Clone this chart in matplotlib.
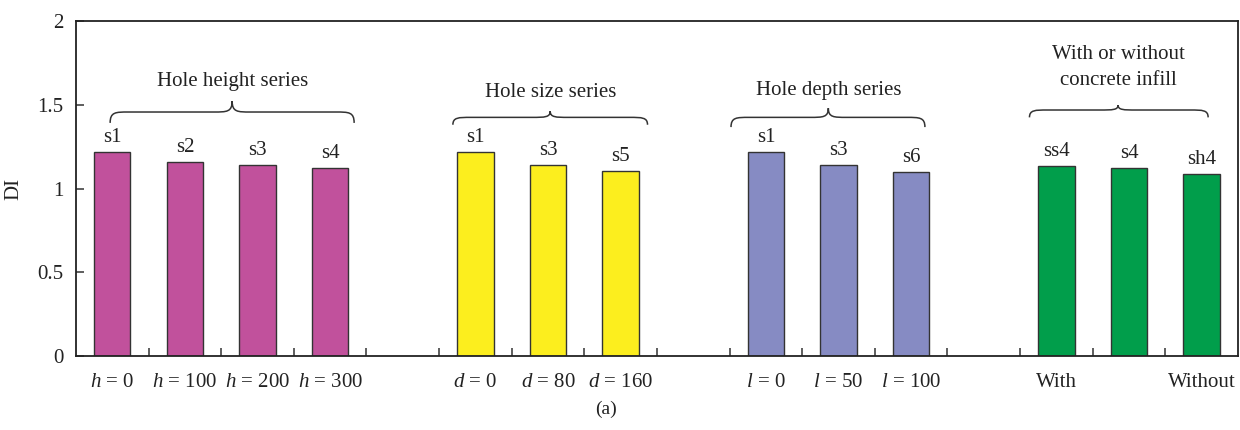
"""Damage index (DI) of the specimens, grouped by the varied parameter."""
import matplotlib.pyplot as plt
from matplotlib.path import Path
from matplotlib.patches import PathPatch

plt.rcParams["font.family"] = ["Liberation Serif", "DejaVu Serif"]
plt.rcParams["mathtext.fontset"] = "custom"
plt.rcParams["mathtext.it"] = "Liberation Serif:italic"
plt.rcParams["mathtext.rm"] = "Liberation Serif"

# data: one list per series, slots with no bar are left empty
height_specimens = ["s1", "s2", "s3", "s4"]
height_labels = ["$h$ = 0", "$h$ = 100", "$h$ = 200", "$h$ = 300"]
height_di = [1.22, 1.158, 1.14, 1.122]

size_specimens = ["s1", "s3", "s5"]
size_labels = ["$d$ = 0", "$d$ = 80", "$d$ = 160"]
size_di = [1.22, 1.138, 1.106]

depth_specimens = ["s1", "s3", "s6"]
depth_labels = ["$l$ = 0", "$l$ = 50", "$l$ = 100"]
depth_di = [1.218, 1.14, 1.10]

infill_specimens = ["ss4", "s4", "sh4"]
infill_labels = ["With", "", "Without"]
infill_di = [1.134, 1.122, 1.087]

group_titles = ["Hole height series", "Hole size series", "Hole depth series",
                "With or without\nconcrete infill"]

# layout: slot where each group starts, colours, brace geometry
group_start = [0, 5, 9, 13]
colors = ["#C1519C", "#FCEE1E", "#868BC3", "#019E4B"]
# (x_left, x_right, x_tip, y_end, y_mid, y_tip, y_text)
braces = [
    (-0.03, 3.33, 1.65, 1.392, 1.457, 1.522, 1.642),
    (4.69, 7.37, 6.03, 1.381, 1.425, 1.462, 1.576),
    (8.52, 11.19, 9.86, 1.367, 1.425, 1.48, 1.588),
    (12.63, 15.09, 13.85, 1.425, 1.469, 1.498, 1.722),
]
n_slots = 16


def draw_brace(ax, x0, x1, xt, ye, ym, yt, r=0.25):
    verts = [
        (x0, ye), (x0, ym), (x0 + r * 0.3, ym), (x0 + r, ym),
        (xt - r, ym),
        (xt - r * 0.3, ym), (xt, ym), (xt, yt),
        (xt, ym), (xt + r * 0.3, ym), (xt + r, ym),
        (x1 - r, ym),
        (x1 - r * 0.3, ym), (x1, ym), (x1, ye),
    ]
    codes = [Path.MOVETO, Path.CURVE4, Path.CURVE4, Path.CURVE4,
             Path.LINETO,
             Path.CURVE4, Path.CURVE4, Path.CURVE4,
             Path.CURVE4, Path.CURVE4, Path.CURVE4,
             Path.LINETO,
             Path.CURVE4, Path.CURVE4, Path.CURVE4]
    ax.add_patch(PathPatch(Path(verts, codes), fill=False,
                           edgecolor="#333333", linewidth=1.1))


fig = plt.figure(figsize=(12.4, 4.3), dpi=100)
ax = fig.add_axes([0.0613, 0.172, 0.937, 0.779])

series = [
    (height_specimens, height_labels, height_di),
    (size_specimens, size_labels, size_di),
    (depth_specimens, depth_labels, depth_di),
    (infill_specimens, infill_labels, infill_di),
]

tick_pos, tick_lab = [], []
for (specs, labs, vals), start, col in zip(series, group_start, colors):
    xs = [start + i for i in range(len(vals))]
    bars = ax.bar(xs, vals, width=0.5, color=col, edgecolor="#333333",
                  linewidth=1.0, zorder=2)
    for b, s in zip(bars, specs):
        ax.text(b.get_x() + b.get_width() / 2, b.get_height() + 0.03, s,
                ha="center", va="bottom", fontsize=15, color="#222222")
    tick_pos += xs
    tick_lab += labs

for (x0, x1, xt, ye, ym, yt, ytxt), title in zip(braces, group_titles):
    draw_brace(ax, x0, x1, xt, ye, ym, yt)
    ax.text(xt, ytxt, title, ha="center", va="center", fontsize=15,
            color="#222222", linespacing=1.5)

ax.set_xlim(-0.5, n_slots - 0.5)
ax.set_ylim(0, 2)
ax.set_yticks([0, 0.5, 1, 1.5, 2])
ax.set_yticklabels(["0", "0.5", "1", "1.5", "2"])
ax.set_xticks(tick_pos)
ax.set_xticklabels(tick_lab)
ax.set_xticks([i + 0.5 for i in range(n_slots - 1)], minor=True)
ax.tick_params(axis="x", which="major", length=0, pad=12, labelsize=15,
               labelcolor="#222222")
ax.tick_params(axis="x", which="minor", direction="in", length=6, width=1.1,
               color="#333333")
ax.tick_params(axis="y", direction="in", length=6, width=1.1, pad=9,
               labelsize=15, labelcolor="#222222", color="#333333")
for sp in ax.spines.values():
    sp.set_linewidth(1.3)
    sp.set_color("#222222")
ax.set_ylabel("DI", fontsize=15, color="#222222", labelpad=10)

fig.text(0.489, 0.047, "(a)", ha="center", va="center", fontsize=14,
         color="#222222")

fig.savefig("out.png", dpi=100)
